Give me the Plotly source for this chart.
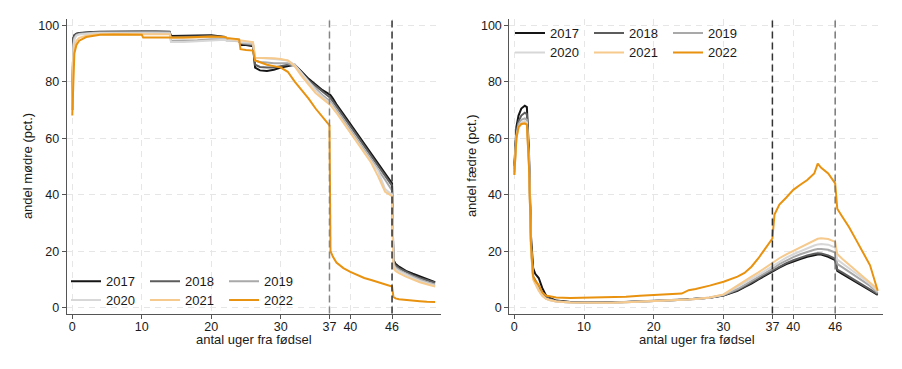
import plotly.graph_objects as go

years = ["2017", "2018", "2019", "2020", "2021", "2022"]
colors = ["#151515", "#5c5c5c", "#a9a9a9", "#d7d7d7", "#f6c98c", "#e8920f"]

weeks_m = [0, 0.15, 0.3, 0.6, 1, 2, 3, 4, 6, 8,
           10, 10.2, 12, 14, 14.2, 16, 18, 20, 22, 22.2,
           24, 24.2, 25, 26, 26.3, 27, 28, 29, 30, 31,
           32, 33, 34, 35, 36, 37, 37.15, 37.5, 38, 39,
           40, 41, 42, 43, 44, 45, 46, 46.2, 46.5, 47,
           48, 49, 50, 51, 52.2]

m2017 = [70, 95.5, 96.5, 97, 97.2, 97.5, 97.6, 97.7, 97.8, 97.8,
         97.8, 97.8, 97.8, 97.7, 96.2, 96.2, 96.3, 96.4, 95.8, 95.2,
         94.8, 93, 93, 92.5, 85, 84, 83.8, 84.2, 85, 85.5,
         86, 83.5, 81, 79, 77, 75.5, 75.2, 74, 72, 68.5,
         65, 61.5, 58, 54.5, 51, 47.5, 44, 17, 15.5, 14.5,
         13, 12, 11, 10, 9]
m2018 = [70, 95, 96.3, 96.9, 97.1, 97.4, 97.5, 97.6, 97.7, 97.7,
         97.7, 97.7, 97.7, 97.6, 95.8, 95.8, 96, 96.2, 95.7, 95.2,
         94.6, 93.5, 93.2, 93, 86, 85.2, 85, 85, 85.5, 86,
         86, 83, 80.5, 78.5, 76.3, 74.5, 74.2, 73, 71.2, 67.8,
         64.3, 60.8, 57.3, 53.8, 50.3, 46.8, 43.2, 16.3, 15, 14,
         12.6, 11.5, 10.5, 9.6, 8.8]
m2019 = [70, 93, 95.5, 96.5, 96.9, 97.2, 97.3, 97.4, 97.5, 97.5,
         97.5, 97.5, 97.5, 97.4, 94.5, 94.5, 94.7, 95, 95, 94.6,
         94.3, 93.8, 93.5, 93.2, 87.5, 87, 86.8, 86.5, 86.5, 86.5,
         85.5, 83, 80, 77.5, 75.2, 73.2, 73, 71.8, 70, 66.5,
         63, 59.5, 56, 52.5, 49, 45.3, 41.5, 15.5, 14.3, 13.4,
         12, 10.9, 10, 9, 8.2]
m2020 = [70, 92, 95, 96.3, 96.7, 97, 97.1, 97.2, 97.2, 97.2,
         97.2, 97.2, 97.2, 97.1, 94, 94, 94.3, 94.6, 94.8, 94.5,
         94.5, 94, 93.9, 93.8, 88.5, 88.3, 88.2, 88, 87.8, 87.5,
         86, 83, 80, 77, 74.7, 72.6, 72.3, 71, 69.3, 65.8,
         62.3, 58.8, 55.3, 51.8, 48.3, 42, 40, 15, 13.8, 12.9,
         11.6, 10.5, 9.5, 8.6, 7.8]
m2021 = [70, 88, 92, 94.5, 95.5, 96.3, 96.6, 96.8, 96.9, 96.9,
         96.9, 96.9, 96.9, 96.8, 95.5, 95.5, 95.6, 95.8, 95.8, 95.3,
         94.8, 94.5, 94.3, 94, 88.5, 88.5, 88.4, 88.3, 88, 87.5,
         85.5, 82, 79, 76, 74, 72, 71.7, 70.5, 69, 65.5,
         62, 58.5, 55, 51.3, 46.5, 41, 39.5, 14, 13, 12.2,
         11, 10, 9, 8.3, 7.5]
m2022 = [68, 85, 90, 93, 94.5, 95.8, 96.3, 96.6, 96.7, 96.7,
         96.6, 95.6, 95.5, 95.6, 95.6, 95.6, 95.8, 96, 95.8, 95.5,
         95, 91.5, 91.2, 91, 87.5, 86.8, 86, 85.5, 85, 83.5,
         80, 77, 74, 70.5, 67.5, 64.5, 20, 18, 16, 14,
         12.7, 11.5, 10.5, 9.8, 9, 8.3, 7.5, 3.8, 3.3, 3.0,
         2.7, 2.5, 2.3, 2.1, 2.0]

weeks_f = [0, 0.3, 0.6, 1, 1.5, 1.8, 2.1, 2.4, 2.7, 3,
           3.5, 4, 4.5, 5, 6, 8, 10, 12, 14, 16,
           18, 20, 22, 24, 25, 26, 28, 30, 32, 33,
           34, 35, 36, 37, 37.3, 38, 39, 40, 41, 42,
           43, 43.5, 44, 45, 46, 46.3, 47, 48, 49, 50,
           51, 52.1]

f2017 = [50, 64, 68, 70.5, 71.5, 71, 55, 25, 14, 12,
         10.5, 7, 4.5, 3.5, 2.5, 2, 1.8, 1.8, 1.8, 2,
         2.2, 2.3, 2.5, 2.8, 3, 3.2, 3.5, 4.3, 6, 7.3,
         8.5, 10, 11.5, 12.8, 13.2, 14.2, 15.4, 16.4, 17.2, 18,
         18.6, 18.8, 18.8, 18, 16.8, 13, 12, 10.5, 9, 7.8,
         6.3, 4.5]
f2018 = [49, 62, 66, 68, 69, 68.5, 53, 22, 11, 9.5,
         7.5, 5.5, 4, 3.2, 2.4, 2, 1.8, 1.8, 1.8, 2,
         2.2, 2.3, 2.5, 2.8, 3, 3.2, 3.5, 4.4, 6.2, 7.5,
         8.8, 10.3, 11.8, 13.1, 13.5, 14.6, 15.8, 16.8, 17.7, 18.5,
         19.1, 19.3, 19.2, 18.5, 17.3, 13.5, 12.5, 11, 9.5, 8.2,
         6.7, 4.8]
f2019 = [48, 61, 65, 66.5, 67, 66.5, 52, 21, 10.5, 8.8,
         6.5, 4.5, 3.3, 2.8, 2.2, 1.8, 1.7, 1.7, 1.7, 1.9,
         2.1, 2.2, 2.4, 2.7, 2.9, 3.1, 3.5, 4.5, 6.6, 8,
         9.4, 10.9, 12.4, 13.8, 14.2, 15.4, 16.8, 17.9, 18.9, 19.8,
         20.5, 20.8, 20.8, 20.5, 19.5, 15.5, 14.4, 12.7, 11, 9.4,
         7.7, 5.2]
f2020 = [48, 60.5, 64, 65.5, 66, 65.5, 51, 20.5, 10.3, 8.6,
         6.2, 4.3, 3.2, 2.7, 2.2, 1.8, 1.7, 1.7, 1.7, 1.9,
         2.1, 2.2, 2.4, 2.7, 2.9, 3.1, 3.6, 4.6, 7.3, 8.7,
         10.1, 11.6, 13.1, 14.6, 15, 16.3, 17.7, 18.9, 20, 21,
         22, 22.4, 22.5, 22.3, 21.3, 17, 15.8, 14, 12.1, 10.3,
         8.4, 5.8]
f2021 = [47, 60, 63.5, 65, 65.5, 65, 50.5, 20, 10, 8.5,
         6, 4.2, 3.2, 2.7, 2.2, 1.8, 1.7, 1.7, 1.7, 1.9,
         2.1, 2.2, 2.4, 2.7, 2.9, 3.1, 3.6, 4.7, 8, 9.5,
         11, 12.5, 14.2, 15.8, 16.2, 17.5, 18.9, 20.1, 21.3, 22.6,
         23.8, 24.4, 24.6, 24.3, 23.3, 19, 17.3, 15.2, 13.1, 11,
         9, 6.5]
f2022 = [47, 60, 64, 65, 65.2, 64.8, 50, 22, 11, 9.5,
         8, 5.5, 4.3, 4, 3.6, 3.4, 3.5, 3.7, 3.8, 3.9,
         4.2, 4.5, 4.7, 5, 6.2, 6.6, 7.8, 9.2, 11, 12.3,
         14.5, 17.5, 21, 24.5, 33, 36.5, 39, 41.7, 43.5, 45.2,
         47.5, 51, 49.5, 47.5, 44, 35, 32.3, 28.5, 24, 19.5,
         15, 6]

mothers = [m2017, m2018, m2019, m2020, m2021, m2022]
fathers = [f2017, f2018, f2019, f2020, f2021, f2022]

x_ticks = [0, 10, 20, 30, 37, 40, 46]
y_ticks = [0, 20, 40, 60, 80, 100]
ref_weeks = [37, 46]

FONT = "Liberation Sans, Arial, sans-serif"
TXT = "#1a1a1a"
AX = "#555555"
GRID = "#e6e6e6"

# page has an 8px body margin: figure occupies window pixels 8..902 / 8..369
OFF = 8
W, H = 902 - OFF, 369 - OFF


def px(xp):
    return (xp - OFF) / W


def py(yp):
    return 1 - (yp - OFF) / H


fig = go.Figure()
for i, (yr, col) in enumerate(zip(years, colors)):
    fig.add_trace(go.Scatter(x=weeks_m, y=mothers[i], mode="lines", name=yr,
                             line=dict(color=col, width=2), xaxis="x", yaxis="y",
                             legend="legend" if i < 3 else "legend2"))
for i, (yr, col) in enumerate(zip(years, colors)):
    fig.add_trace(go.Scatter(x=weeks_f, y=fathers[i], mode="lines", name=yr,
                             line=dict(color=col, width=2), xaxis="x2", yaxis="y2",
                             legend="legend3" if i < 3 else "legend4"))

xd1 = [px(66.7), px(440.7)]
xd2 = [px(509.3), px(883.3)]
yd = [py(314.3), py(18.3)]

common_x = dict(tickvals=x_ticks, ticktext=[str(t) for t in x_ticks],
                showline=True, linecolor=AX, linewidth=1, ticks="outside",
                ticklen=4, tickcolor=AX, showgrid=True, gridcolor=GRID,
                griddash="6px,5px", gridwidth=1, zeroline=False,
                ticklabelstandoff=-3,
                tickfont=dict(size=12.5, color=TXT, family=FONT))
common_y = dict(tickvals=y_ticks, range=[-2.1, 102.1], domain=yd,
                showline=True, linecolor=AX, linewidth=1, ticks="outside",
                ticklen=4, tickcolor=AX, showgrid=True, gridcolor=GRID,
                griddash="6px,5px", gridwidth=1, zeroline=False,
                tickfont=dict(size=12.5, color=TXT, family=FONT))

leg = dict(orientation="h", entrywidth=34, entrywidthmode="pixels",
           font=dict(size=13, color=TXT, family=FONT), bgcolor="rgba(0,0,0,0)",
           borderwidth=0, itemwidth=30, xanchor="left", yanchor="middle",
           tracegroupgap=0)

fig.update_layout(
    width=W, height=H,
    margin=dict(l=0, r=0, t=0, b=0),
    paper_bgcolor="white", plot_bgcolor="white",
    font=dict(family=FONT, color=TXT),
    xaxis=dict(domain=xd1, range=[-0.8, 53.0], anchor="y", **common_x),
    yaxis=dict(anchor="x", **common_y),
    xaxis2=dict(domain=xd2, range=[-0.72, 52.9], anchor="y2", **common_x),
    yaxis2=dict(anchor="x2", **common_y),
    legend=dict(x=px(66), y=py(281.7), **leg),
    legend2=dict(x=px(66), y=py(300.7), **leg),
    legend3=dict(x=px(510), y=py(32.3), **leg),
    legend4=dict(x=px(510), y=py(51.7), **leg),
    showlegend=True,
)

# reference lines at weeks 37 and 46
ref_cols = [("x", "y", ["#858585", "#333333"]), ("x2", "y2", ["#333333", "#777777"])]
for xr, yr_, cols in ref_cols:
    for wk, c in zip(ref_weeks, cols):
        fig.add_shape(type="line", xref=xr, yref=yr_ + " domain", x0=wk, x1=wk,
                      y0=0, y1=1, line=dict(color=c, width=1.5, dash="7px,4px"),
                      layer="above")

# axis titles
title_font = dict(size=13, color=TXT, family=FONT)
ann = dict(xref="paper", yref="paper", showarrow=False, font=title_font,
           xanchor="center", yanchor="middle")
fig.add_annotation(text="andel mødre (pct.)", x=px(27), y=py(166), textangle=-90, **ann)
fig.add_annotation(text="andel fædre (pct.)", x=px(471), y=py(166), textangle=-90, **ann)
fig.add_annotation(text="antal uger fra fødsel", x=px(254), y=py(340.7), **ann)
fig.add_annotation(text="antal uger fra fødsel", x=px(696.5), y=py(340.7), **ann)

fig.write_html("out.html", config={"displayModeBar": False})
